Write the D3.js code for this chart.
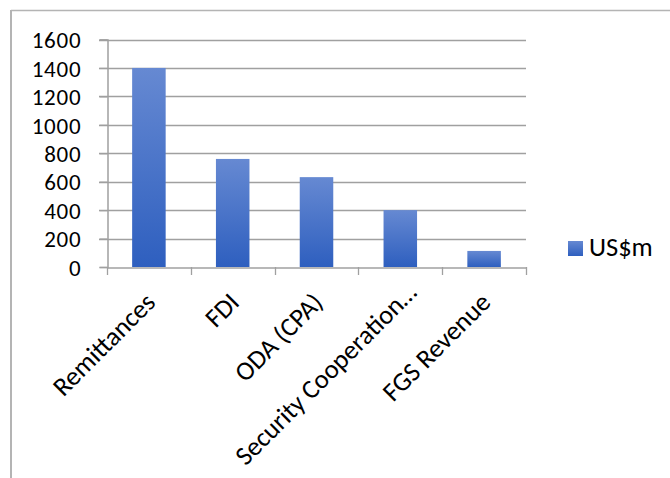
<!DOCTYPE html>
<html>
<head>
<meta charset="utf-8">
<script src="https://cdn.jsdelivr.net/npm/d3@7"></script>
<style>
  html, body { margin: 0; padding: 0; background: #fff; }
  svg { display: block; }
  text { font-family: Carlito, Lato, "Liberation Sans", sans-serif; fill: #000; }
</style>
</head>
<body>
<svg id="chart" width="670" height="478"></svg>
<script>
const categories = ["Remittances", "FDI", "ODA (CPA)", "Security Cooperation…", "FGS Revenue"];
const values = [1400, 760, 632, 400, 113];
const yTickValues = [0, 200, 400, 600, 800, 1000, 1200, 1400, 1600];
const seriesName = "US$m";

const svg = d3.select("#chart");
const W = 670, H = 478;
const plot = { left: 107, right: 526, top: 39.5, bottom: 267 };
const FS = 26.5;
const YFS = 23;

// chart border (top + left visible)
svg.append("line").attr("x1", 11).attr("x2", W).attr("y1", 10.5).attr("y2", 10.5)
  .attr("stroke", "#b4b4b4").attr("stroke-width", 1.5);
svg.append("line").attr("x1", 11).attr("x2", 11).attr("y1", 10).attr("y2", H)
  .attr("stroke", "#b4b4b4").attr("stroke-width", 2);

const defs = svg.append("defs");
const grad = defs.append("linearGradient").attr("id", "barGrad")
  .attr("x1", 0).attr("y1", 0).attr("x2", 0).attr("y2", 1);
grad.append("stop").attr("offset", "0%").attr("stop-color", "#6689d2");
grad.append("stop").attr("offset", "100%").attr("stop-color", "#2e5fbf");

const x = d3.scaleBand().domain(categories).range([plot.left, plot.right])
  .paddingInner(0.6).paddingOuter(0.3);
const xb = d3.scaleBand().domain(categories).range([plot.left, plot.right]);
const y = d3.scaleLinear().domain([0, 1600]).range([plot.bottom, plot.top]);

// gridlines
svg.append("g").selectAll("line").data(yTickValues.filter(v => v > 0)).join("line")
  .attr("x1", plot.left - 8).attr("x2", plot.right)
  .attr("y1", d => Math.round(y(d)) + 0.5).attr("y2", d => Math.round(y(d)) + 0.5)
  .attr("stroke", "#a0a0a0").attr("stroke-width", 1.3);

// bars
svg.append("g").selectAll("rect").data(values).join("rect")
  .attr("x", (d, i) => x(categories[i]))
  .attr("width", x.bandwidth())
  .attr("y", d => y(d))
  .attr("height", d => y(0) - y(d))
  .attr("fill", "url(#barGrad)");

// y axis
const yAxis = svg.append("g").attr("transform", `translate(${plot.left + 0.5},0)`)
  .call(d3.axisLeft(y).tickValues(yTickValues).tickFormat(d3.format("d")).tickSize(8).tickPadding(18));
yAxis.attr("font-size", null).attr("font-family", null);
yAxis.select(".domain").attr("stroke", "#a0a0a0").attr("stroke-width", 1.5);
yAxis.selectAll(".tick line").attr("stroke", "#a0a0a0").attr("stroke-width", 1.3);
yAxis.selectAll(".tick text").attr("font-size", YFS).attr("dy", "0.36em")
  .attr("letter-spacing", "0.8px");

// x axis
const xAxis = svg.append("g").attr("transform", `translate(0,${Math.round(plot.bottom) + 0.5})`)
  .call(d3.axisBottom(xb).tickSize(0).tickFormat(""));
xAxis.select(".domain").attr("stroke", "#a0a0a0").attr("stroke-width", 1.5);
const bounds = categories.map(c => xb(c)).concat([plot.right]);
svg.append("g").selectAll("line").data(bounds).join("line")
  .attr("x1", d => Math.round(d) + 0.5).attr("x2", d => Math.round(d) + 0.5)
  .attr("y1", plot.bottom).attr("y2", plot.bottom + 8)
  .attr("stroke", "#a0a0a0").attr("stroke-width", 1.3);

// rotated category labels (truncated labels sit a little further along the diagonal, as in Excel)
svg.append("g").selectAll("text").data(categories).join("text")
  .attr("transform", d => {
    const shift = d.endsWith("…") ? 10 : 0;
    return `translate(${xb(d) + xb.bandwidth() / 2 + 8 + shift},${304 - shift}) rotate(-45)`;
  })
  .attr("text-anchor", "end")
  .attr("font-size", FS)
  .text(d => d);

// legend
const lg = svg.append("g").attr("transform", "translate(568,241)");
lg.append("rect").attr("width", 15).attr("height", 15).attr("fill", "url(#barGrad)");
lg.append("text").attr("x", 21).attr("y", 15).attr("font-size", FS).text(seriesName);
</script>
</body>
</html>
